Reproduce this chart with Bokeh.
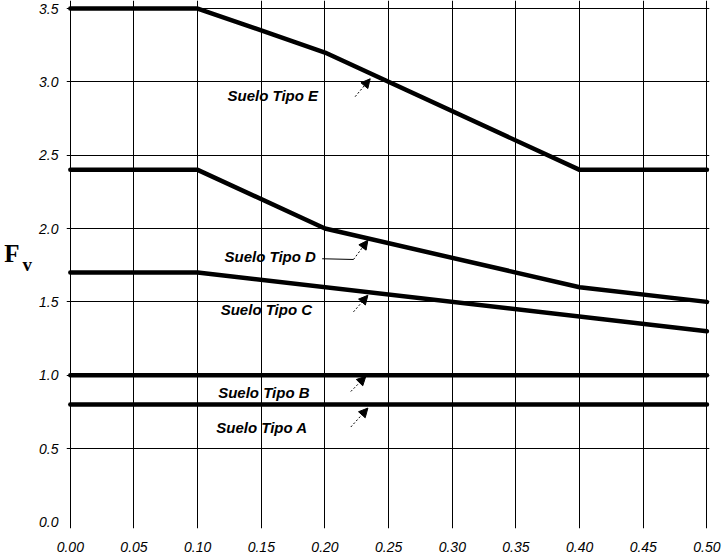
from bokeh.plotting import figure
from bokeh.models import Range1d, FixedTicker, LinearAxis, Arrow, NormalHead, ColumnDataSource
from bokeh.core.properties import value
from bokeh.embed import file_html
from bokeh.resources import INLINE

# ---- data ----
x_E = [0.0, 0.10, 0.20, 0.40, 0.50]
y_E = [3.5, 3.5, 3.2, 2.4, 2.4]
x_D = [0.0, 0.10, 0.20, 0.40, 0.50]
y_D = [2.4, 2.4, 2.0, 1.6, 1.5]
x_C = [0.0, 0.10, 0.50]
y_C = [1.7, 1.7, 1.3]
x_B = [0.0, 0.50]
y_B = [1.0, 1.0]
x_A = [0.0, 0.50]
y_A = [0.8, 0.8]

x_ticks = [0.0, 0.05, 0.10, 0.15, 0.20, 0.25, 0.30, 0.35, 0.40, 0.45, 0.50]
x_tick_labels = ["0.00", "0.05", "0.10", "0.15", "0.20", "0.25", "0.30", "0.35", "0.40", "0.45", "0.50"]
y_ticks = [0.0, 0.5, 1.0, 1.5, 2.0, 2.5, 3.0, 3.5]
y_tick_labels = ["0.0", "0.5", "1.0", "1.5", "2.0", "2.5", "3.0", "3.5"]

soil_labels = ["Suelo Tipo E", "Suelo Tipo D", "Suelo Tipo C", "Suelo Tipo B", "Suelo Tipo A"]

# annotation positions (data coordinates)
label_x = [0.1590, 0.1570, 0.1540, 0.1520, 0.1505]
label_y = [2.905, 1.812, 1.446, 0.880, 0.645]
arrow_x0 = [0.2237, 0.2224, 0.2224, 0.2203, 0.2203]
arrow_y0 = [2.899, 1.789, 1.432, 0.889, 0.647]
arrow_x1 = [0.2355, 0.2337, 0.2337, 0.2321, 0.2337]
arrow_y1 = [3.021, 1.920, 1.545, 0.993, 0.776]

p = figure(width=723, height=560, output_backend="svg", toolbar_location=None,
           x_range=Range1d(-0.003, 0.502), y_range=Range1d(-0.045, 3.5546),
           min_border_left=66, min_border_right=14, min_border_top=0, min_border_bottom=32)
p.outline_line_color = None
p.background_fill_color = "white"
p.border_fill_color = "white"

# grid
p.xgrid.ticker = FixedTicker(ticks=x_ticks)
p.ygrid.ticker = FixedTicker(ticks=y_ticks[1:])
for g in (p.xgrid, p.ygrid):
    g.grid_line_color = "black"
    g.grid_line_width = 1

# axes
p.xaxis.ticker = FixedTicker(ticks=x_ticks)
p.yaxis.ticker = FixedTicker(ticks=y_ticks)
p.xaxis.major_label_overrides = dict(zip(x_ticks, x_tick_labels))
p.yaxis.major_label_overrides = dict(zip(y_ticks, y_tick_labels))
for ax in (p.xaxis, p.yaxis):
    ax.axis_line_color = None
    ax.major_tick_line_color = None
    ax.minor_tick_line_color = None
    ax.major_tick_out = 0
    ax.major_tick_in = 0
    ax.minor_tick_out = 0
    ax.minor_tick_in = 0
    ax.major_label_text_font = "Liberation Sans"
    ax.major_label_text_font_style = "italic"
    ax.major_label_text_font_size = "14px"
    ax.major_label_text_color = "black"
p.xaxis.major_label_standoff = 13
p.yaxis.major_label_standoff = 8

# F_v axis title: subscript "v" on the inner axis, "F" on an outer, tick-less axis
yax = p.yaxis[0]
yax.axis_label = "v"
yax.axis_label_orientation = "horizontal"
yax.axis_label_standoff = 4
yax.axis_label_text_font = "Liberation Serif"
yax.axis_label_text_font_style = "bold"
yax.axis_label_text_font_size = "19px"
yax.axis_label_text_color = "black"

fax = LinearAxis(ticker=FixedTicker(ticks=[]), axis_label="F\n ", axis_label_orientation="horizontal",
                 axis_label_standoff=0, axis_line_color=None, major_tick_line_color=None,
                 minor_tick_line_color=None, major_tick_out=0, major_tick_in=0,
                 minor_tick_out=0, minor_tick_in=0, major_label_standoff=0,
                 major_label_text_font_size="0px",
                 axis_label_text_font="Liberation Serif", axis_label_text_font_style="bold",
                 axis_label_text_font_size="25px", axis_label_text_color="black",
                 axis_label_text_line_height=0.8)
p.add_layout(fax, "left")

# curves
for xs, ys in ((x_E, y_E), (x_D, y_D), (x_C, y_C), (x_B, y_B), (x_A, y_A)):
    p.line(xs, ys, line_color="black", line_width=4.5, line_join="round", line_cap="round")

# labels
p.text(x=label_x, y=label_y, text=soil_labels, text_font=value("Liberation Sans"),
       text_font_style="bold italic", text_font_size="15px", text_color="black",
       text_align="center", text_baseline="middle")

# D leader line
p.segment(x0=[0.1978], y0=[1.794], x1=[arrow_x0[1]], y1=[arrow_y0[1]], line_color="black", line_width=1)

# arrows
src = ColumnDataSource(dict(x0=arrow_x0, y0=arrow_y0, x1=arrow_x1, y1=arrow_y1))
p.add_layout(Arrow(source=src, x_start="x0", y_start="y0", x_end="x1", y_end="y1",
                   line_color="black", line_width=1, line_dash="2 2",
                   end=NormalHead(size=9, fill_color="black", line_color="black", line_width=1)))

open("out.html", "w").write(file_html(p, INLINE))
